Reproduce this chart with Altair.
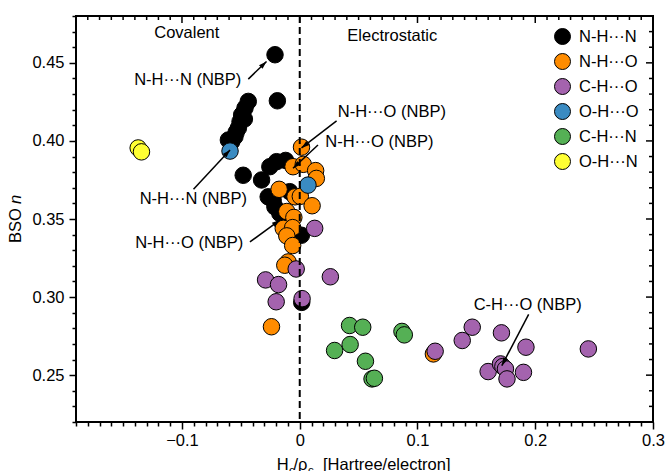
import math
import altair as alt
import pandas as pd

FONT = "Liberation Sans"
FS = 16.5
W, H = 577, 406
XD = [-0.19, 0.30]
YD = [0.22, 0.48]

# ---------------- data ----------------
types = ["N-H···N", "N-H···O", "C-H···O", "O-H···O", "C-H···N", "O-H···N"]
colors = ["#000000", "#FF8C00", "#A463AE", "#3A8BC2", "#55B055", "#FFFF33"]

nhn_x = [-0.0210, -0.0190, -0.0437, -0.0465, -0.0470, -0.0493, -0.0507, -0.0521, -0.0540,
         -0.0550, -0.0577, -0.0606, -0.0480, -0.0324, -0.0254, -0.0197, -0.0120, -0.0268,
         -0.0226, -0.0211, -0.0169, -0.0085, 0.0014, 0.0017]
nhn_y = [0.4552, 0.4257, 0.4253, 0.4210, 0.4140, 0.4167, 0.4124, 0.4082, 0.4055,
         0.4028, 0.3996, 0.4006, 0.3780, 0.3750, 0.3835, 0.3867, 0.3875, 0.3642,
         0.3621, 0.3578, 0.3536, 0.3675, 0.3396, 0.2966]

nho_x = [0.0015, -0.0057, 0.0030, 0.0135, 0.0141, -0.0175, -0.0040, 0.0005, 0.0105, -0.0110,
         -0.0050, -0.0140, -0.0060, -0.0110, -0.0060, -0.0099, -0.0127, -0.0240, 0.1135]
nho_y = [0.3960, 0.3835, 0.3850, 0.3810, 0.3760, 0.3690, 0.3642, 0.3645, 0.3585, 0.3548,
         0.3510, 0.3440, 0.3445, 0.3392, 0.3330, 0.3225, 0.3204, 0.2810, 0.2636]

cho_x = [-0.0030, -0.0290, -0.0180, -0.0200, 0.0020, 0.0260, 0.0127, 0.1150, 0.1380, 0.1465,
         0.1713, 0.1921, 0.2451, 0.1600, 0.1705, 0.1725, 0.1747, 0.1760, 0.1900]
cho_y = [0.3180, 0.3110, 0.3080, 0.2970, 0.2990, 0.3130, 0.3440, 0.2653, 0.2722, 0.2807,
         0.2771, 0.2679, 0.2668, 0.2523, 0.2572, 0.2555, 0.2540, 0.2476, 0.2518]

oho_x = [-0.0592, 0.0070]
oho_y = [0.3935, 0.3717]

chn_x = [0.0423, 0.0535, 0.0296, 0.0428, 0.0558, 0.0614, 0.0634, 0.0868, 0.0888]
chn_y = [0.2818, 0.2807, 0.2658, 0.2696, 0.2589, 0.2476, 0.2480, 0.2780, 0.2758]

ohn_x = [-0.1372, -0.1344]
ohn_y = [0.3955, 0.3930]

# annotations: label text and centre (data coordinates)
ann_text = ["Covalent", "Electrostatic", "N-H···N (NBP)", "N-H···N (NBP)",
            "N-H···O (NBP)", "N-H···O (NBP)", "N-H···O (NBP)", "C-H···O (NBP)"]
ann_x = [-0.0959, 0.0786, -0.0951, -0.0904, 0.0782, 0.0676, -0.0938, 0.1936]
ann_y = [0.4694, 0.4674, 0.4392, 0.3627, 0.4186, 0.3996, 0.3347, 0.2947]

# arrows: tail -> head (data coordinates)
arr_x1 = [-0.0437, -0.0902, 0.0313, 0.0155, -0.0423, 0.1944]
arr_y1 = [0.4396, 0.3690, 0.4128, 0.3974, 0.3353, 0.2889]
arr_x2 = [-0.0282, -0.0592, 0.0015, -0.0057, -0.0169, 0.1716]
arr_y2 = [0.4509, 0.3942, 0.3955, 0.3825, 0.3493, 0.2561]

x_major = [-0.1, 0.0, 0.1, 0.2, 0.3]
y_major = [0.25, 0.30, 0.35, 0.40, 0.45]
xticks = [round(v / 100, 2) for v in range(-19, 31)]
yticks = [round(v / 100, 2) for v in range(22, 49)]
x_minor = [v for v in xticks if v not in x_major]
y_minor = [v for v in yticks if v not in y_major]

# ---------------- tables ----------------
groups = [(nhn_x, nhn_y), (nho_x, nho_y), (cho_x, cho_y), (oho_x, oho_y), (chn_x, chn_y), (ohn_x, ohn_y)]
rows = []
for t, (gx, gy) in zip(types, groups):
    for a, b in zip(gx, gy):
        rows.append({"x": a, "y": b, "type": t})
pts = pd.DataFrame(rows)

ann = pd.DataFrame({"x": ann_x, "y": ann_y, "label": ann_text})

kx = W / (XD[1] - XD[0])
ky = H / (YD[1] - YD[0])
angles = []
for a1, b1, a2, b2 in zip(arr_x1, arr_y1, arr_x2, arr_y2):
    dx = (a2 - a1) * kx
    dy = -(b2 - b1) * ky
    angles.append(math.degrees(math.atan2(dx, -dy)) % 360)
arr = pd.DataFrame({"x": arr_x1, "y": arr_y1, "x2": arr_x2, "y2": arr_y2, "ang": angles})

one = pd.DataFrame({"k": [0]})

# ---------------- scales / axes ----------------
xscale = alt.Scale(domain=XD, nice=False, zero=False)
yscale = alt.Scale(domain=YD, nice=False, zero=False)

xaxis = alt.Axis(
    values=xticks, title=None, grid=False, domain=False,
    labelExpr="round(abs(datum.value)*100) % 10 == 0 ? (abs(datum.value) < 1e-9 ? '0' : format(datum.value, '.1f')) : ''",
    tickSize={"condition": {"test": "round(abs(datum.value)*100) % 10 == 0", "value": 7}, "value": 4},
    tickWidth=1.5, tickColor="black", labelColor="black", labelFont=FONT, labelFontSize=FS,
    labelPadding=3, labelOverlap=False, labelFlush=False, labelBound=False,
)
yaxis = alt.Axis(
    values=yticks, title=None, grid=False, domain=False,
    labelExpr="round(datum.value*100) % 5 == 0 ? format(datum.value, '.2f') : ''",
    tickSize={"condition": {"test": "round(datum.value*100) % 5 == 0", "value": 7}, "value": 4},
    tickWidth=1.5, tickColor="black", labelColor="black", labelFont=FONT, labelFontSize=FS,
    labelPadding=5, labelOverlap=False, labelFlush=False, labelBound=False,
)


def X(f):
    return alt.X(f, type="quantitative", scale=xscale, axis=xaxis, title=None)


def Y(f):
    return alt.Y(f, type="quantitative", scale=yscale, axis=yaxis, title=None)


points = alt.Chart(pts).mark_circle(size=272, stroke="black", strokeWidth=1, opacity=1).encode(
    x=X("x"), y=Y("y"),
    color=alt.Color("type:N", scale=alt.Scale(domain=types, range=colors), sort=types,
                    legend=alt.Legend(title=None, orient="none", legendX=478, legendY=12,
                                      symbolType="circle", symbolSize=256, symbolStrokeColor="black",
                                      symbolStrokeWidth=1, symbolOpacity=1, labelFont=FONT,
                                      labelFontSize=FS, labelColor="black", labelOffset=8,
                                      rowPadding=4, padding=0)),
)

zero_line = alt.Chart(one).mark_rule(color="black", strokeWidth=2, strokeDash=[7, 4]).encode(
    x=alt.X(datum=0, type="quantitative", scale=xscale, axis=xaxis, title=None)
)

# mirrored inward ticks on top and right
top_major = alt.Chart(pd.DataFrame({"x": x_major})).mark_rule(color="black", strokeWidth=1.5).encode(
    x=X("x"), y=alt.value(0), y2=alt.value(7))
top_minor = alt.Chart(pd.DataFrame({"x": x_minor})).mark_rule(color="black", strokeWidth=1.5).encode(
    x=X("x"), y=alt.value(0), y2=alt.value(4))
right_major = alt.Chart(pd.DataFrame({"y": y_major})).mark_rule(color="black", strokeWidth=1.5).encode(
    y=Y("y"), x=alt.value(W), x2=alt.value(W - 7))
right_minor = alt.Chart(pd.DataFrame({"y": y_minor})).mark_rule(color="black", strokeWidth=1.5).encode(
    y=Y("y"), x=alt.value(W), x2=alt.value(W - 4))

labels = alt.Chart(ann).mark_text(font=FONT, fontSize=FS, color="black", align="center",
                                  baseline="middle").encode(x=X("x"), y=Y("y"), text="label:N")

arrow_lines = alt.Chart(arr).mark_rule(color="black", strokeWidth=1.5).encode(
    x=X("x"), y=Y("y"), x2="x2", y2="y2")
arrow_heads = alt.Chart(arr).mark_point(shape="M0,0L-0.32,1L0.32,1Z", filled=True, size=256,
                                        color="black", opacity=1, strokeWidth=0).encode(
    x=X("x2"), y=Y("y2"), angle=alt.Angle("ang:Q", scale=None))


# axis titles as text (for subscripts and italic)
def txt(s, x, y, size=FS, style="normal", angle=0, align="left"):
    return alt.Chart(one).mark_text(text=s, font=FONT, fontSize=size, fontStyle=style, color="black",
                                    align=align, baseline="alphabetic", angle=angle).encode(
        x=alt.value(x), y=alt.value(y))


xt = [
    txt("H", 200.7, 454),
    txt("c", 213, 458, size=11.5),
    txt("/ρ", 217.5, 454),
    txt("c", 232, 458, size=11.5),
    txt("[Hartree/electron]", 247, 454),
]
yt = [
    txt("BSO", -55, 227, angle=270),
    txt("n", -55, 188, style="italic", angle=270),
]

chart = alt.layer(
    points, zero_line, top_major, top_minor, right_major, right_minor,
    arrow_lines, arrow_heads, labels, *xt, *yt
).properties(
    width=W, height=H,
    padding={"left": 76, "top": 16, "right": 12, "bottom": 49},
    autosize=alt.AutoSizeParams(type="none"),
).configure_view(stroke="black", strokeWidth=2)

chart.save("out.html", embed_options={"renderer": "svg", "actions": False})
